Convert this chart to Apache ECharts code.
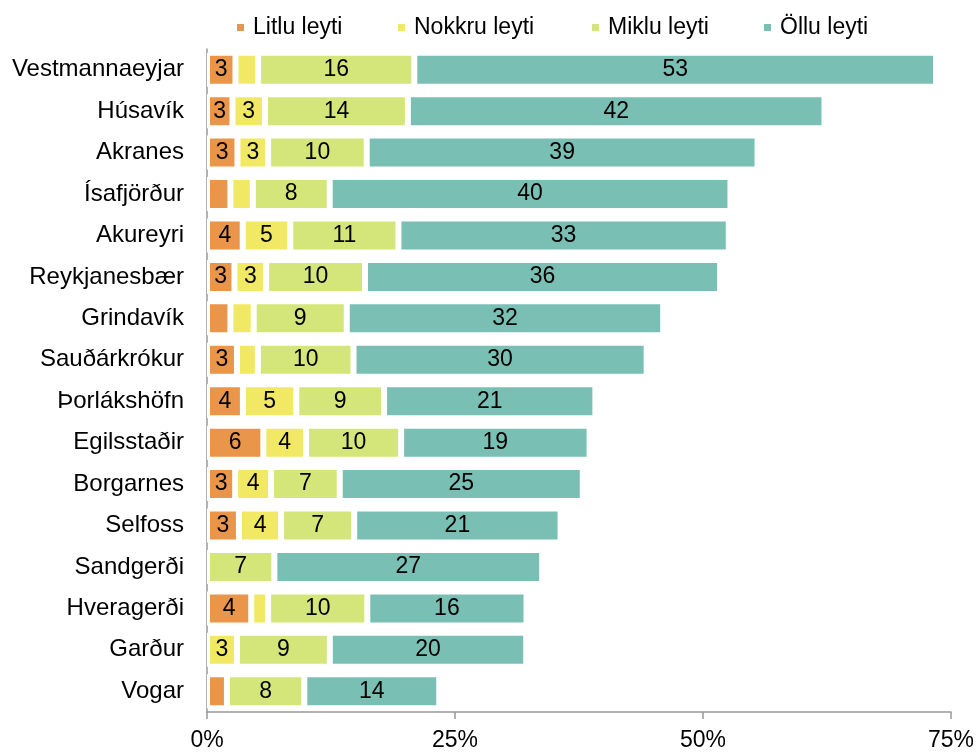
<!DOCTYPE html>
<html>
<head>
<meta charset="utf-8">
<script src="https://cdn.jsdelivr.net/npm/echarts@6/dist/echarts.min.js"></script>
<style>
  html, body { margin: 0; padding: 0; background: #fff; }
  #main { width: 977px; height: 752px; }
</style>
</head>
<body>
<div id="main"></div>
<script>
// sveitarfélög, efst til neðst
var towns = ['Vestmannaeyjar', 'Húsavík', 'Akranes', 'Ísafjörður', 'Akureyri', 'Reykjanesbær',
    'Grindavík', 'Sauðárkrókur', 'Þorlákshöfn', 'Egilsstaðir', 'Borgarnes', 'Selfoss',
    'Sandgerði', 'Hveragerði', 'Garður', 'Vogar'];
var seriesNames = ['Litlu leyti', 'Nokkru leyti', 'Miklu leyti', 'Öllu leyti'];
var litlu  = [2.87, 2.57, 3.07, 2.36, 3.6, 2.77, 2.36, 3.02, 3.62, 5.68, 2.84, 3.22, 0, 4.46, 0, 2.01];
var nokkru = [2.28, 3.28, 3.09, 2.26, 4.8, 3.19, 2.35, 2.11, 5.38, 4.3, 3.62, 4.25, 0, 1.7, 3.02, 0];
var miklu  = [15.75, 14.4, 9.94, 7.75, 10.9, 9.97, 9.38, 9.64, 8.85, 9.59, 6.92, 7.37, 6.79, 10.0, 9.36, 7.8];
var ollu   = [52.6, 42.0, 39.4, 40.4, 33.3, 35.8, 31.9, 29.55, 21.3, 19.0, 24.5, 20.8, 27.0, 16.05, 19.8, 13.6];
var xTicks = [0, 25, 50, 75];
var colors = ['#E9954A', '#F1E964', '#D4E679', '#79BFB4'];

var font = 'Liberation Sans, Arial, sans-serif';
var values = [litlu, nokkru, miklu, ollu];

function toData(arr) {
    return arr.map(function (v) {
        // núll á ekki að teikna hvíta brún
        return v === 0 ? { value: 0, itemStyle: { borderWidth: 0 } } : { value: v };
    });
}

var series = seriesNames.map(function (name, i) {
    return {
        name: name,
        type: 'bar',
        stack: 'total',
        barWidth: 34,
        itemStyle: { color: colors[i], borderColor: '#fff', borderWidth: 3 },
        label: {
            show: true,
            position: 'inside',
            color: '#000',
            fontFamily: font,
            fontSize: 23,
            formatter: function (p) {
                return p.value >= 2.5 ? Math.round(p.value) : '';
            }
        },
        emphasis: { disabled: true },
        data: toData(values[i])
    };
});

var legendLeft = [230, 391, 585, 757];
var legends = seriesNames.map(function (name, i) {
    return {
        data: [name],
        left: legendLeft[i],
        top: 11,
        icon: 'rect',
        itemWidth: 9,
        itemHeight: 9,
        selectedMode: false,
        textStyle: { fontFamily: font, fontSize: 23, color: '#000', padding: [0, 0, 0, 3] }
    };
});

var myChart = echarts.init(document.getElementById('main'));
myChart.setOption({
    animation: false,
    color: colors,
    legend: legends,
    grid: { left: 207, right: 23, top: 49, bottom: 37 },
    xAxis: {
        type: 'value',
        min: xTicks[0],
        max: xTicks[xTicks.length - 1],
        interval: 25,
        axisLine: { show: true, lineStyle: { color: '#999', width: 1.5 } },
        axisTick: { show: true, length: 7, lineStyle: { color: '#999', width: 1.5 } },
        splitLine: { show: false },
        axisLabel: {
            color: '#000', fontFamily: font, fontSize: 23, margin: 17,
            formatter: '{value}%'
        }
    },
    yAxis: {
        type: 'category',
        inverse: true,
        data: towns,
        axisLine: { show: true, lineStyle: { color: '#999', width: 1.5 } },
        axisTick: { show: false },
        axisLabel: { color: '#000', fontFamily: font, fontSize: 24, margin: 23 }
    },
    series: series
});
</script>
</body>
</html>
